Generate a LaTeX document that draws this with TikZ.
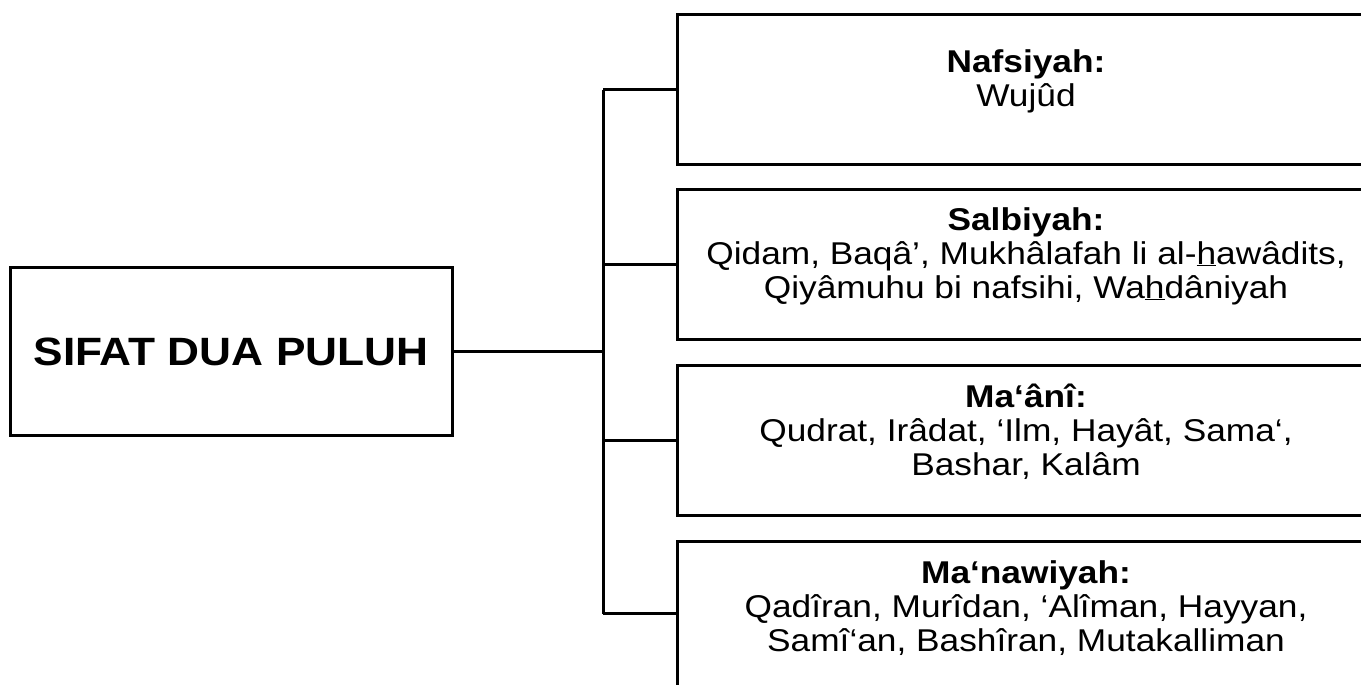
\documentclass[tikz,border=0pt]{standalone}
\usepackage{fontspec}
\setmainfont{Liberation Sans}[FakeStretch=1.12]

\begin{document}
\begin{tikzpicture}[x=1pt,y=1pt,line width=3pt]
\tikzstyle{every node}=[rectangle, inner sep=0pt, align=center, font=\fontsize{31.5}{34}\selectfont]
\tikzstyle{kotak}=[draw, minimum width=698pt, minimum height=150pt]
\tikzstyle{isi}=[yshift=9pt]
\useasboundingbox (0,0) rectangle (1361,685);
\clip (0,0) rectangle (1361,685);
\draw (231,333) node (s0) [draw, minimum width=442pt, minimum height=168pt, font=\fontsize{39.5}{42}\selectfont\bfseries] {SIFAT DUA PULUH};
% kotak kanan
\draw (1026,595) node (s1) [kotak] {};
\draw (1026,420) node (s2) [kotak] {};
\draw (1026,244) node (s3) [kotak] {};
\draw (1026,68) node (s4) [kotak] {};
\draw (s1.center) node (l1) [isi] {\textbf{Nafsiyah:}\\Wujûd};
\draw (s2.center) node (l2) [isi] {\textbf{Salbiyah:}\\Qidam, Baqâ’, Mukhâlafah li al-\underline{h}awâdits,\\Qiyâmuhu bi nafsihi, Wa\underline{h}dâniyah};
\draw (s3.center) node (l3) [isi] {\textbf{Ma‘ânî:}\\Qudrat, Irâdat, ‘Ilm, Hayât, Sama‘,\\Bashar, Kalâm};
\draw (s4.center) node (l4) [isi] {\textbf{Ma‘nawiyah:}\\Qadîran, Murîdan, ‘Alîman, Hayyan,\\Samî‘an, Bashîran, Mutakalliman};
\coordinate (t0) at (603,333);
\coordinate (t1) at (603,595);
\coordinate (t4) at (603,71);
\draw (s0.east) -- (t0);
\draw (t1) -- (t4);
\draw (t1) -- (s1.west);
\draw (t0 |- s2.west) -- (s2.west);
\draw (t0 |- s3.west) -- (s3.west);
\draw (t4) -- (s4.west |- t4);
\end{tikzpicture}
\end{document}
